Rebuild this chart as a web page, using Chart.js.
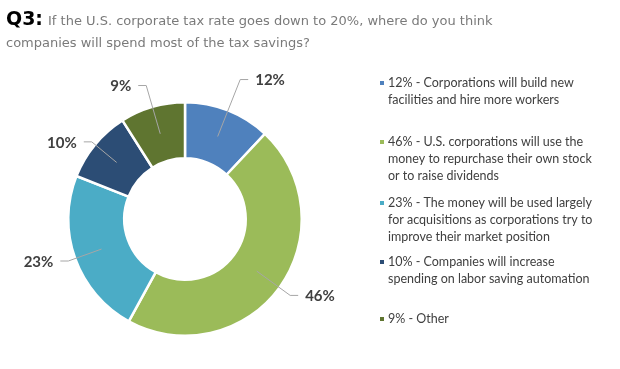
<!DOCTYPE html>
<html>
<head>
<meta charset="utf-8">
<script src="https://cdn.jsdelivr.net/npm/chart.js@4/dist/chart.umd.min.js"></script>
<style>
  html, body { margin: 0; padding: 0; background: #fff; }
  canvas { display: block; }
</style>
</head>
<body>
<canvas id="chart" width="620" height="369"></canvas>
<script>
const categories = ["Build facilities / hire", "Buy back stock / dividends", "Acquisitions", "Labor saving automation", "Other"];
const shares = [12, 46, 23, 10, 9];
const sliceColors = ["#4f81bd", "#9bbb59", "#4bacc6", "#2c4d75", "#5f7530"];
const legendLines = [
  ["12% - Corporations will build new", "facilities and hire more workers"],
  ["46% - U.S. corporations will use the", "money to repurchase their own stock", "or to raise dividends"],
  ["23% - The money will be used largely", "for acquisitions as corporations try to", "improve their market position"],
  ["10% - Companies will increase", "spending on labor saving automation"],
  ["9% - Other"]
];

// leader line elbow distance from centre, per slice
const elbowRadius = [150, 130, 124, 121, 139];

const ctx = document.getElementById("chart").getContext("2d");

const extras = {
  id: "extras",
  afterDraw(chart) {
    const c = chart.ctx;
    const meta = chart.getDatasetMeta(0);
    c.save();

    // title
    c.textBaseline = "alphabetic";
    c.fillStyle = "#000";
    c.font = "bold 19px 'DejaVu Sans'";
    c.fillText("Q3:", 6, 25);
    c.fillStyle = "#7a7a7a";
    c.font = "13px 'DejaVu Sans'";
    c.fillText("If the U.S. corporate tax rate goes down to 20%, where do you think", 48, 25);
    c.fillText("companies will spend most of the tax savings?", 6, 47);

    // slice labels with leader lines
    meta.data.forEach((arc, i) => {
      const mid = (arc.startAngle + arc.endAngle) / 2;
      const rs = (arc.innerRadius + arc.outerRadius) / 2;
      const sx = arc.x + Math.cos(mid) * rs;
      const sy = arc.y + Math.sin(mid) * rs;
      const ex = arc.x + Math.cos(mid) * elbowRadius[i];
      const ey = arc.y + Math.sin(mid) * elbowRadius[i];
      const right = Math.cos(mid) >= 0;
      const hx = ex + (right ? 8 : -8);
      c.strokeStyle = "#a6a6a6";
      c.lineWidth = 1;
      c.beginPath();
      c.moveTo(sx, sy);
      c.lineTo(ex, ey);
      c.lineTo(hx, ey);
      c.stroke();
      c.fillStyle = "#404040";
      c.font = "bold 15px Lato";
      c.textBaseline = "middle";
      c.textAlign = right ? "left" : "right";
      c.fillText(shares[i] + "%", hx + (right ? 7 : -7), ey + 1);
    });

    // legend
    c.textAlign = "left";
    c.textBaseline = "middle";
    c.font = "12.5px Lato";
    const starts = [83, 142, 203, 262, 319];
    legendLines.forEach((lines, i) => {
      c.fillStyle = sliceColors[i];
      c.fillRect(380, starts[i] - 2, 4, 4);
      c.fillStyle = "#404040";
      lines.forEach((t, j) => c.fillText(t, 388, starts[i] + j * 17));
    });
    c.restore();
  }
};

new Chart(ctx, {
  type: "doughnut",
  data: {
    labels: categories,
    datasets: [{
      data: shares,
      backgroundColor: sliceColors,
      borderColor: "#ffffff",
      borderWidth: 2.5
    }]
  },
  options: {
    responsive: false,
    animation: false,
    cutout: "52%",
    layout: { padding: { left: 67, top: 101, right: 317, bottom: 32 } },
    plugins: {
      legend: { display: false },
      title: { display: false },
      tooltip: { enabled: false }
    }
  },
  plugins: [extras]
});
</script>
</body>
</html>
